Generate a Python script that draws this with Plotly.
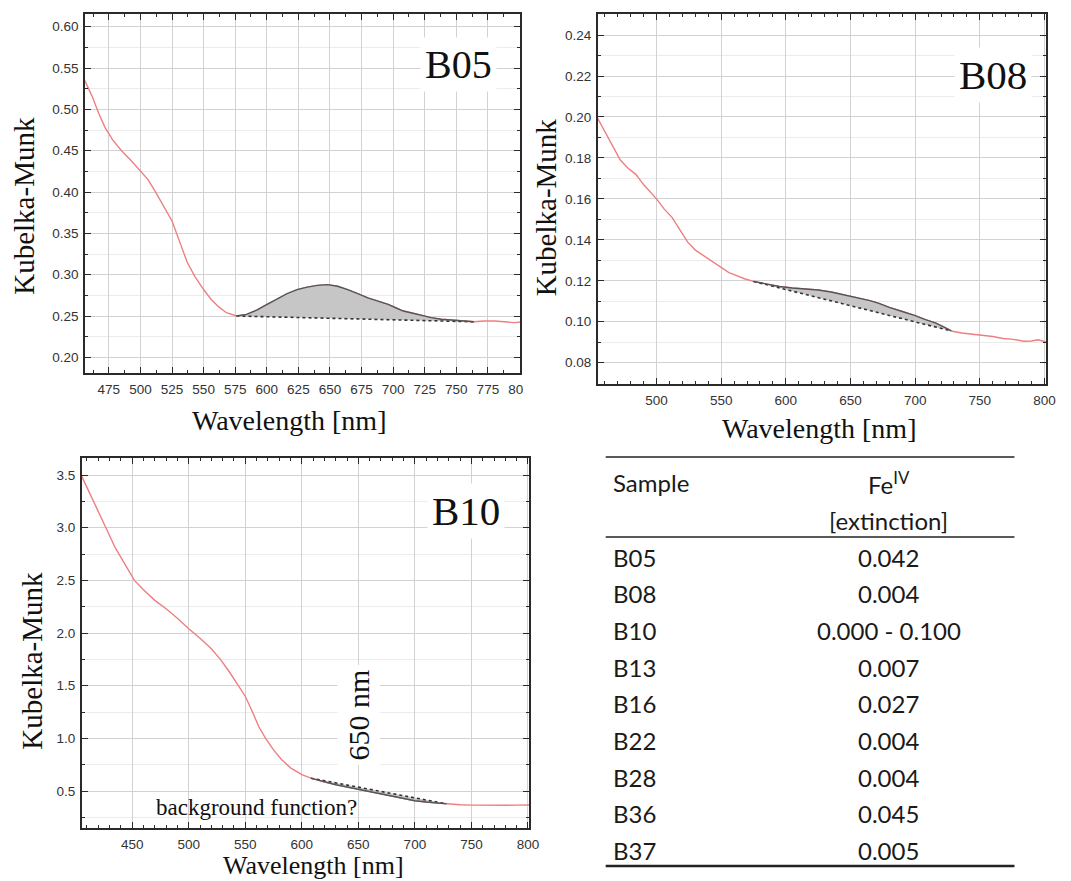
import plotly.graph_objects as go

# ---------------- data ----------------
# B05 Kubelka-Munk spectrum
b05_wl = [455, 462, 467, 472, 478, 485, 492, 500, 506, 512, 518, 525, 531, 537, 543,
          550, 556, 562, 568, 576, 584, 592, 600, 608, 616, 624, 632, 640, 648, 656,
          664, 672, 680, 688, 696, 702, 708, 714, 722, 730, 738, 746, 754, 764, 772,
          780, 788, 796, 803]
b05_km = [0.538, 0.515, 0.495, 0.478, 0.463, 0.450, 0.439, 0.426, 0.415, 0.400, 0.383,
          0.365, 0.340, 0.315, 0.298, 0.282, 0.270, 0.261, 0.254, 0.250, 0.252, 0.257,
          0.264, 0.270, 0.277, 0.282, 0.285, 0.287, 0.288, 0.286, 0.282, 0.277, 0.272,
          0.268, 0.264, 0.260, 0.256, 0.254, 0.251, 0.248, 0.246, 0.245, 0.244, 0.243,
          0.244, 0.244, 0.243, 0.242, 0.243]
b05_base = [576, 764]

# B08 Kubelka-Munk spectrum
b08_wl = [454, 460, 466, 472, 478, 484, 490, 496, 500, 506, 512, 518, 524, 530, 537,
          544, 550, 556, 562, 568, 575, 585, 595, 605, 615, 625, 635, 645, 655, 665,
          672, 680, 690, 700, 708, 716, 722, 728, 736, 744, 752, 760, 768, 776, 784,
          790, 795, 802]
b08_km = [0.2000, 0.1930, 0.1860, 0.1790, 0.1750, 0.1720, 0.1670, 0.1630, 0.1600,
          0.1550, 0.1510, 0.1450, 0.1390, 0.1350, 0.1320, 0.1290, 0.1262, 0.1240,
          0.1225, 0.1210, 0.1197, 0.1183, 0.1172, 0.1165, 0.1160, 0.1155, 0.1145,
          0.1132, 0.1118, 0.1103, 0.1090, 0.1070, 0.1050, 0.1030, 0.1010, 0.0993,
          0.0975, 0.0955, 0.0945, 0.0940, 0.0932, 0.0928, 0.0918, 0.0914, 0.0905,
          0.0906, 0.0912, 0.0900]
b08_base = [575, 728]

# B10 Kubelka-Munk spectrum
b10_wl = [404, 415, 425, 435, 445, 452, 460, 470, 480, 490, 500, 510, 520, 528, 536,
          544, 550, 556, 562, 568, 575, 582, 590, 600, 608, 620, 630, 640, 650, 660,
          670, 680, 690, 700, 710, 720, 728, 740, 750, 760, 770, 780, 790, 802]
b10_km = [3.52, 3.26, 3.04, 2.81, 2.62, 2.50, 2.41, 2.31, 2.23, 2.14, 2.04, 1.95, 1.85,
          1.75, 1.63, 1.50, 1.40, 1.26, 1.11, 1.00, 0.89, 0.80, 0.72, 0.655, 0.622,
          0.585, 0.560, 0.538, 0.516, 0.495, 0.473, 0.450, 0.428, 0.408, 0.395, 0.385,
          0.378, 0.370, 0.366, 0.364, 0.364, 0.365, 0.366, 0.367]
b10_base = [608, 728]

# Fe(IV) extinction table
samples = ["B05", "B08", "B10", "B13", "B16", "B22", "B28", "B36", "B37"]
fe_iv = ["0.042", "0.004", "0.000 - 0.100", "0.007", "0.027", "0.004", "0.004",
         "0.045", "0.005"]

# ---------------- styling ----------------
W, H = 1071, 881
RED = "#ee7f80"
AXIS = "#2a2a2a"
GRID = "#d2d2d2"
MINOR_GRID = "#ececec"
SERIF = "Liberation Serif, Times New Roman, serif"
SANS = "Liberation Sans, Arial, sans-serif"
TABLE_FONT = "Lato, Carlito, Calibri, sans-serif"


def px(x):
    return x / W


def py(y):
    return 1 - y / H


def x_axis(left, right, rng, dtick, minor, anchor):
    return dict(domain=[px(left), px(right)], range=rng, anchor=anchor,
                dtick=dtick, tick0=0, showline=True, mirror="allticks",
                linecolor=AXIS, linewidth=1.7, ticks="inside", ticklen=6,
                tickwidth=1.3, tickcolor=AXIS, showgrid=True, gridcolor=GRID,
                gridwidth=1, zeroline=False, ticklabelstandoff=3,
                tickfont=dict(family=SANS, size=13.5, color="#333333"),
                minor=dict(dtick=minor, ticks="inside", ticklen=3, tickwidth=1.1,
                           tickcolor=AXIS, showgrid=False))


def y_axis(top, bottom, rng, dtick, minor, fmt, anchor):
    return dict(domain=[py(bottom), py(top)], range=rng, anchor=anchor,
                dtick=dtick, tick0=0, tickformat=fmt, showline=True,
                mirror="allticks", linecolor=AXIS, linewidth=1.7, ticks="inside",
                ticklen=6, tickwidth=1.3, tickcolor=AXIS, showgrid=True,
                gridcolor=GRID, gridwidth=1, zeroline=False, ticklabelstandoff=2,
                tickfont=dict(family=SANS, size=13.5, color="#333333"),
                minor=dict(dtick=minor, ticks="inside", ticklen=3, tickwidth=1.1,
                           tickcolor=AXIS, showgrid=True, gridcolor=MINOR_GRID))


fig = go.Figure()


def add_spectrum(wl, km, base, xa, ya):
    # full spectrum in red
    fig.add_trace(go.Scatter(x=wl, y=km, mode="lines", xaxis=xa, yaxis=ya,
                             line=dict(color=RED, width=1.4), hoverinfo="skip"))
    # straight background line between the two anchor wavelengths
    i0, i1 = wl.index(base[0]), wl.index(base[1])
    fig.add_trace(go.Scatter(x=[wl[i0], wl[i1]], y=[km[i0], km[i1]], mode="lines",
                             xaxis=xa, yaxis=ya, hoverinfo="skip",
                             line=dict(color="#333333", width=1.6, dash="dot")))
    # shaded Fe(IV) band between spectrum and background
    fig.add_trace(go.Scatter(x=wl[i0:i1 + 1], y=km[i0:i1 + 1], mode="lines",
                             xaxis=xa, yaxis=ya, fill="tonexty",
                             fillcolor="#c6c6c6", hoverinfo="skip",
                             line=dict(color="#555555", width=1.4)))


add_spectrum(b05_wl, b05_km, b05_base, "x", "y")
add_spectrum(b08_wl, b08_km, b08_base, "x2", "y2")
add_spectrum(b10_wl, b10_km, b10_base, "x3", "y3")

annotations = []


def label(text, x, y, size, angle=0, bg=None, font=SERIF, xanchor="center",
          xref="paper", yref="paper", color="#111111"):
    a = dict(text=text, x=x, y=y, xref=xref, yref=yref, showarrow=False,
             textangle=angle, xanchor=xanchor, yanchor="middle",
             font=dict(family=font, size=size, color=color))
    if bg:
        a.update(bgcolor=bg, borderpad=4)
    annotations.append(a)


# panel tags
label("B05", px(463), py(64), 40, bg="white")
label("B08", px(1003), py(75), 41, bg="white")
label("B10", px(471), py(511), 41, bg="white")

# axis titles
for cx, cy in [(24, 206), (552, 207), (32, 661)]:
    label("Kubelka-Munk", px(cx), py(cy), 29, angle=-90)
for cx, cy, fs in [(292, 420, 28), (827, 428, 28), (317, 865, 26)]:
    label("Wavelength [nm]", px(cx), py(cy), fs)

# B10 notes
label("650 nm", 650, 1.22, 30, angle=-90, bg="white", xref="x3", yref="y3")
label("background function?", 560, 0.348, 23, xref="x3", yref="y3")

# table
label("Sample", px(617), py(483), 24, font=TABLE_FONT, xanchor="left",
      color="#1a1a1a")
label("Fe<sup>IV</sup>", px(898), py(483), 24, font=TABLE_FONT, color="#1a1a1a")
label("[extinction]", px(898), py(520), 24, font=TABLE_FONT, color="#1a1a1a")
for i, (s, v) in enumerate(zip(samples, fe_iv)):
    yy = 557 + i * 36.7
    label(s, px(617), py(yy), 24, font=TABLE_FONT, xanchor="left", color="#1a1a1a")
    label(v, px(898), py(yy), 24, font=TABLE_FONT, color="#1a1a1a")

shapes = [
    dict(type="line", xref="paper", yref="paper", x0=px(612), x1=px(1025),
         y0=py(457), y1=py(457), line=dict(color="#222222", width=1.5)),
    dict(type="line", xref="paper", yref="paper", x0=px(612), x1=px(1025),
         y0=py(537), y1=py(537), line=dict(color="#222222", width=1.3)),
    dict(type="line", xref="paper", yref="paper", x0=px(612), x1=px(1025),
         y0=py(866), y1=py(866), line=dict(color="#222222", width=2.6)),
    # edge of the B08 panel overlapping the last B05 tick label
    dict(type="rect", xref="paper", yref="paper", x0=px(528.5), x1=px(537),
         y0=py(402), y1=py(378), fillcolor="white", line=dict(width=0),
         layer="above"),
]

fig.update_layout(
    width=W, height=H, margin=dict(l=0, r=0, t=0, b=0),
    paper_bgcolor="white", plot_bgcolor="white", showlegend=False,
    xaxis=x_axis(86, 525.5, [456.2, 800.5], 25, 12.5, "y"),
    yaxis=y_axis(14, 372.7, [0.1814, 0.6154], 0.05, 0.025, ".2f", "x"),
    xaxis2=x_axis(604, 1057, [454.6, 801.3], 50, 10, "y2"),
    yaxis2=y_axis(14, 384, [0.0696, 0.2503], 0.02, 0.01, ".2f", "x2"),
    xaxis3=x_axis(82.7, 534.6, [405.5, 801], 50, 10, "y3"),
    yaxis3=y_axis(458.3, 828.3, [0.146, 3.659], 0.5, 0.25, ".1f", "x3"),
    annotations=annotations, shapes=shapes,
)

fig.write_html("out.html")
